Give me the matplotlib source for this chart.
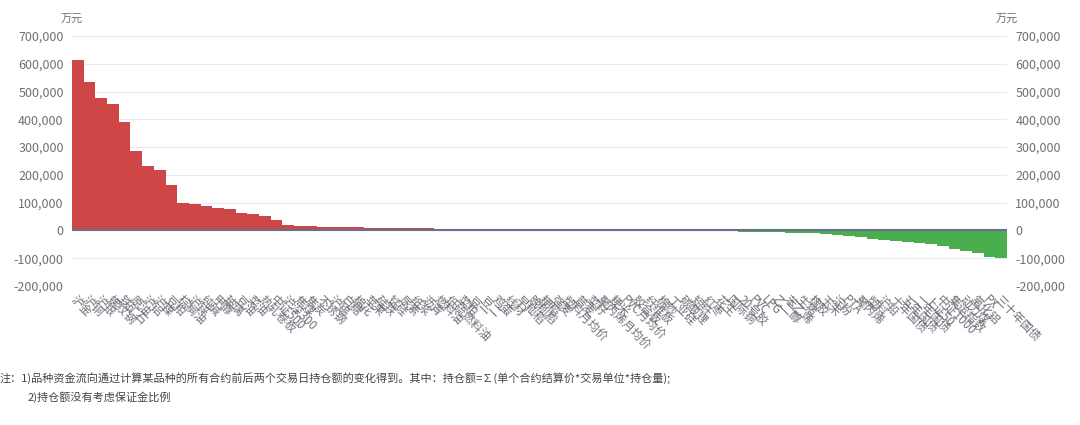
import numpy as np
import matplotlib
matplotlib.use("Agg")
import matplotlib.pyplot as plt
from matplotlib.ticker import FuncFormatter

plt.rcParams['font.family'] = ['Noto Sans CJK SC', 'DejaVu Sans']

# 品种名称 (按资金流向排序)
names = ["沪金", "沪铜", "沪银", "螺纹钢", "铁矿石", "原油", "沪铝", "沪镍", "豆粕", "棕榈油",
         "沪锌", "纯碱", "甲醇", "玻璃", "豆油", "菜油", "热轧卷板", "中证500", "沪深300", "焦煤",
         "焦炭", "不锈钢", "沪锡", "白糖", "棉花", "苹果", "硅铁", "锰硅", "尿素", "纸浆",
         "沥青", "燃料油", "低硫燃料油", "菜粕", "豆一", "豆二", "鸡蛋", "线材", "早籼稻", "晚籼稻",
         "粳稻", "强麦", "塑料月均价", "普麦", "菜籽", "聚丙烯月均价", "粳米", "PVC月均价", "胶合板", "纤维板",
         "棉纱", "工业硅", "碳酸锂", "短纤", "红枣", "花生", "国际铜", "20号胶", "PVC", "LPG",
         "乙二醇", "苯乙烯", "生猪", "橡胶", "玉米", "淀粉", "PTA", "聚丙烯", "塑料", "沪铅",
         "十年国债", "五年国债", "二年国债", "上证50", "中证1000", "集运指数", "动力煤", "氧化铝", "PX", "三十年国债"]

# 资金流向 (万元)
flows = [613000, 533000, 478000, 456000, 391000, 287000, 233000, 219000, 164000, 99000,
         94000, 88000, 82000, 78000, 63000, 60000, 53000, 36000, 20000, 17000,
         16000, 14000, 13000, 12000, 11000, 10000, 10000, 9000, 9000, 8000,
         8000, 7000, 7000, 6000, 6000, 5000, 4000, 3000, 500, 300,
         200, 100, 0, 0, 0, 0, 0, 0, 0, 0,
         0, -100, -200, -300, -500, -2000, -3000, -4000, -5000, -6000,
         -7000, -8000, -9000, -10000, -12000, -15000, -19000, -25000, -30000, -34000,
         -37000, -40000, -44000, -47000, -56000, -67000, -74000, -81000, -97000, -99000]

yticks = [-200000, -100000, 0, 100000, 200000, 300000, 400000, 500000, 600000, 700000]

note1 = "注：1)品种资金流向通过计算某品种的所有合约前后两个交易日持仓额的变化得到。其中：持仓额=∑(单个合约结算价*交易单位*持仓量);"
note2 = "2)持仓额没有考虑保证金比例"

fig = plt.figure(figsize=(10.8, 4.25), dpi=100)
ax = fig.add_axes([72 / 1080, 1 - 286 / 425, 935 / 1080, 250 / 425])

x = np.arange(len(names))
colors = ['#cf4646' if v >= 0 else '#4aae4f' for v in flows]
ax.bar(x, flows, width=1.0, color=colors, linewidth=0, zorder=2)
ax.axhline(0, color='#66708f', linewidth=1.5, zorder=3)

ax.set_xlim(-0.5, len(names) - 0.5)
ax.set_ylim(-200000, 700000)
ax.set_yticks(yticks)
ax.yaxis.set_major_formatter(FuncFormatter(lambda v, p: f"{int(v):,}"))
ax.grid(axis='y', color='#e8ebf3', linewidth=0.8, zorder=0)
for s in ax.spines.values():
    s.set_visible(False)
ax.tick_params(axis='y', length=0, labelsize=9, labelcolor='#6e7079', pad=6,
               left=True, right=True, labelleft=True, labelright=True)

ax.set_xticks(x)
ax.set_xticklabels(names, rotation=-45, ha='left', va='top', rotation_mode='anchor',
                   fontsize=8.5, color='#6e7079')
ax.tick_params(axis='x', length=0, pad=5)

ax.text(0, 1.045, "万元", transform=ax.transAxes, ha='center', va='bottom',
        fontsize=8, color='#6e7079')
ax.text(1, 1.045, "万元", transform=ax.transAxes, ha='center', va='bottom',
        fontsize=8, color='#6e7079')

fig.text(0 / 1080, 1 - 378 / 425, note1, ha='left', va='center', fontsize=8, color='#444444')
fig.text(28 / 1080, 1 - 397 / 425, note2, ha='left', va='center', fontsize=8, color='#444444')

fig.savefig("out.png", dpi=100)
